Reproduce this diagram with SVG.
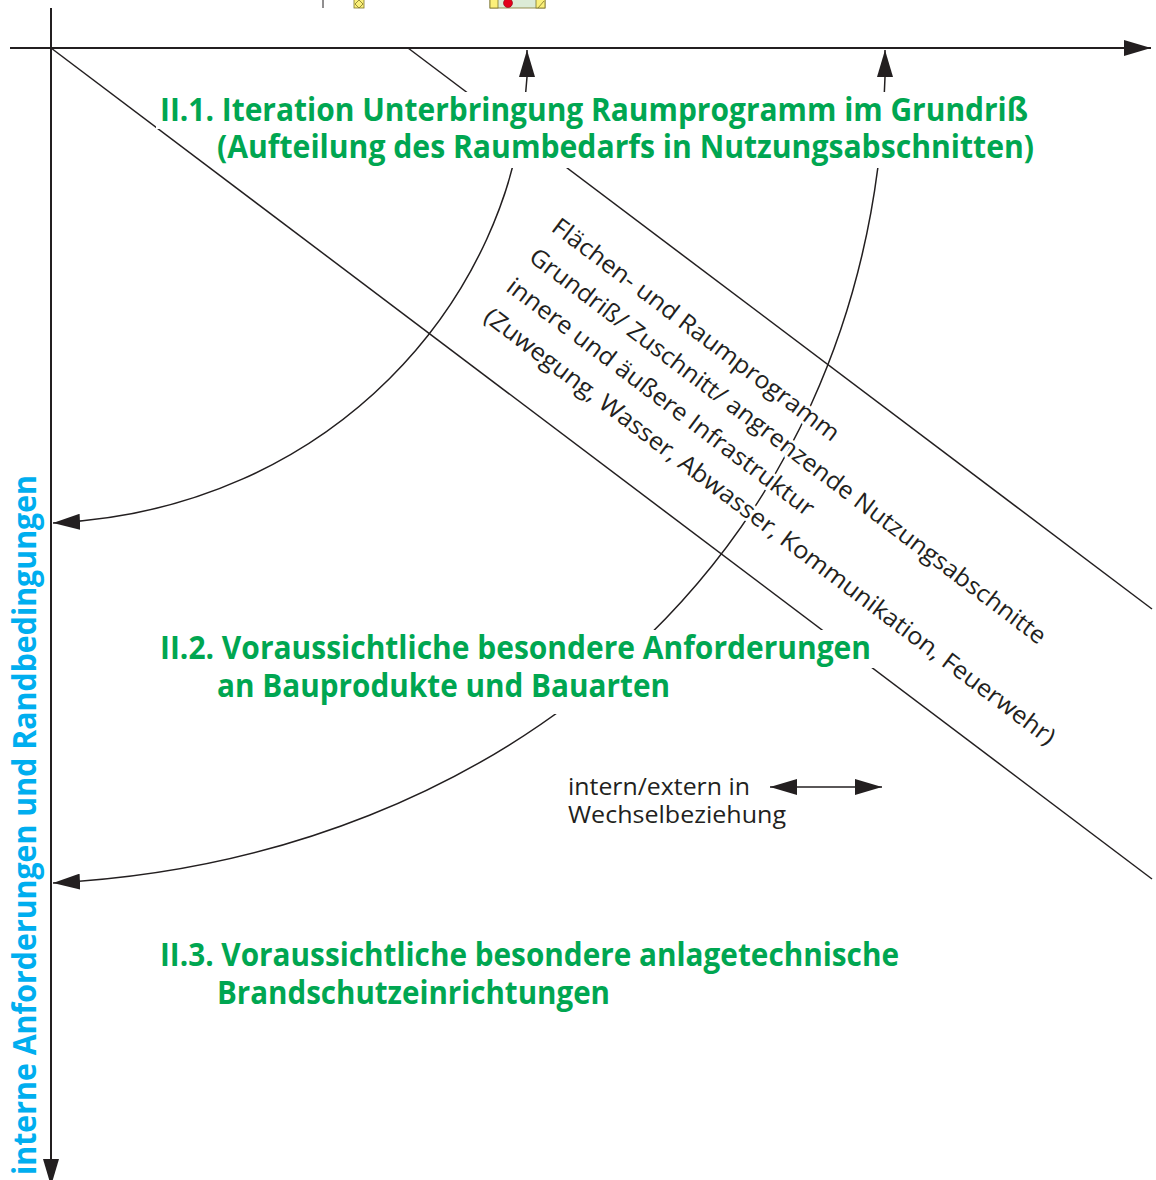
<svg xmlns="http://www.w3.org/2000/svg" width="1156" height="1180" viewBox="0 0 1156 1180">
<defs>
<marker id="ah" viewBox="0 0 27 16" refX="27" refY="8" markerWidth="27" markerHeight="16" markerUnits="userSpaceOnUse" orient="auto-start-reverse">
<path d="M0,0 L27,8 L0,16 Z" fill="#231f20"/>
</marker>
<style>
.axis{fill:none;stroke:#231f20;stroke-width:2}
.ln{fill:none;stroke:#231f20;stroke-width:1.5}
.ko{fill:#fff}
.green{font-family:"Open Sans","Noto Sans",sans-serif;font-weight:700;font-size:32px;fill:#00a651}
.blue{font-family:"Open Sans","Noto Sans",sans-serif;font-weight:700;font-size:32px;fill:#00aeef}
.rot{font-family:"Open Sans","Noto Sans",sans-serif;font-size:24px;fill:#231f20;stroke:#fff;stroke-width:6;stroke-linejoin:round;paint-order:stroke}
.leg{font-family:"Open Sans","Noto Sans",sans-serif;font-size:24px;fill:#231f20}
</style>
</defs>
<rect width="1156" height="1180" fill="#fff"/>

<g id="top-fragment">
<line x1="323" y1="0" x2="323" y2="8" stroke="#231f20" stroke-width="1"/>
<rect x="354" y="-1" width="10" height="9" fill="#fbf07a" stroke="#7d742a" stroke-width="0.8"/>
<path d="M359,0 L363,4 L359,8 L355,4 Z" fill="none" stroke="#7d742a" stroke-width="0.8"/>
<rect x="490" y="-1" width="55" height="9" fill="#dcebd6" stroke="#7d742a" stroke-width="0.8"/>
<rect x="490" y="-1" width="8" height="9" fill="#fbf07a" stroke="#7d742a" stroke-width="0.8"/>
<rect x="536" y="-1" width="9" height="9" fill="#fbf07a" stroke="#7d742a" stroke-width="0.8"/>
<line x1="538" y1="8" x2="544" y2="1" stroke="#7d742a" stroke-width="0.8"/>
<circle cx="508" cy="3" r="4.5" fill="#e3001b" stroke="#8a0010" stroke-width="0.6"/>
</g>

<g id="connectors">
<path class="axis" d="M10,48 H1151" marker-end="url(#ah)"/>
<path class="axis" d="M51,8 V1186" marker-end="url(#ah)"/>
<line class="ln" x1="51" y1="48" x2="1152" y2="879"/>
<line class="ln" x1="408" y1="48" x2="1152" y2="609"/>
<path class="ln" d="M527,50 L527,77 C515,300 330,510 53,523" marker-start="url(#ah)" marker-end="url(#ah)"/>
<path class="ln" d="M885,50 L885,77 C870,560 500,860 53,883" marker-start="url(#ah)" marker-end="url(#ah)"/>
<path class="ln" d="M770,787 H882" marker-start="url(#ah)" marker-end="url(#ah)"/>
</g>

<g id="node-II1">
<rect class="ko" x="156" y="92" width="876" height="37"/>
<rect class="ko" x="213" y="129" width="826" height="39"/>
<text class="green" x="160" y="121" textLength="868" lengthAdjust="spacingAndGlyphs">II.1. Iteration Unterbringung Raumprogramm im Grundriß</text>
<text class="green" x="217" y="158" textLength="817" lengthAdjust="spacingAndGlyphs">(Aufteilung des Raumbedarfs in Nutzungsabschnitten)</text>
</g>

<g id="node-II2">
<rect class="ko" x="156" y="630" width="719" height="38"/>
<rect class="ko" x="213" y="668" width="461" height="46"/>
<text class="green" x="160" y="659" textLength="711" lengthAdjust="spacingAndGlyphs">II.2. Voraussichtliche besondere Anforderungen</text>
<text class="green" x="217" y="697" textLength="453" lengthAdjust="spacingAndGlyphs">an Bauprodukte und Bauarten</text>
</g>

<g id="node-II3">
<text class="green" x="160" y="966" textLength="739" lengthAdjust="spacingAndGlyphs">II.3. Voraussichtliche besondere anlagetechnische</text>
<text class="green" x="217" y="1004" textLength="393" lengthAdjust="spacingAndGlyphs">Brandschutzeinrichtungen</text>
</g>

<g id="node-axis-label">
<text class="blue" transform="translate(36,1175) rotate(-90)" x="0" y="0" textLength="700" lengthAdjust="spacingAndGlyphs">interne Anforderungen und Randbedingungen</text>
</g>

<g id="node-band-label" transform="translate(550,230) rotate(37)">
<text class="rot" x="0" y="0" textLength="353" lengthAdjust="spacingAndGlyphs">Flächen- und Raumprogramm</text>
<text class="rot" x="0" y="37.5" textLength="640" lengthAdjust="spacingAndGlyphs">Grundriß/ Zuschnitt/ angrenzende Nutzungsabschnitte</text>
<text class="rot" x="0" y="75" textLength="378" lengthAdjust="spacingAndGlyphs">innere und äußere Infrastruktur</text>
<text class="rot" x="0" y="112.5" textLength="708" lengthAdjust="spacingAndGlyphs">(Zuwegung, Wasser, Abwasser, Kommunikation, Feuerwehr)</text>
</g>

<g id="node-legend">
<text class="leg" x="568" y="795" textLength="182" lengthAdjust="spacingAndGlyphs">intern/extern in</text>
<text class="leg" x="568" y="823" textLength="218" lengthAdjust="spacingAndGlyphs">Wechselbeziehung</text>
</g>
</svg>
